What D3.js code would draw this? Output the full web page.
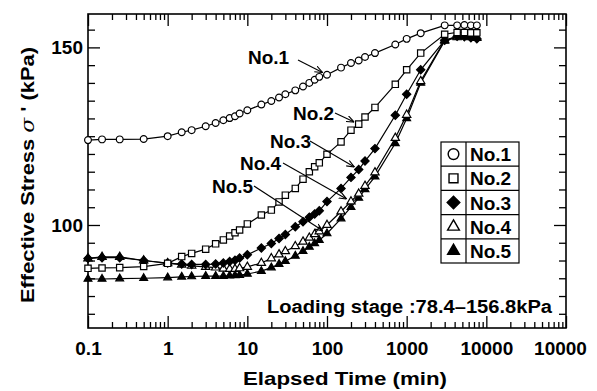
<!DOCTYPE html>
<html>
<head>
<meta charset="utf-8">
<script src="https://cdn.jsdelivr.net/npm/d3@7"></script>
<style>
body{margin:0;background:#fff;}
text{font-family:"Liberation Sans",Arial,sans-serif;font-weight:bold;fill:#000;}
</style>
</head>
<body>
<div id="container"></div>
<script>
// elapsed time of each reading (min)
let elapsed = [0.1, 0.15, 0.25, 0.5, 1, 1.5, 2, 3, 4, 5, 6, 7, 8, 10, 15, 20, 25, 30, 40, 50, 60, 70, 80,
	100, 150, 200, 250, 300, 400, 720, 1000, 1500, 3000, 4300, 5300, 6400, 7600];

// effective stress (kPa) per specimen
let no1 = [123.9, 124.1, 124.1, 124.2, 125.0, 126.1, 126.7, 127.8, 128.7, 129.5, 130.1, 130.6, 131.4, 132.3, 133.9, 134.9, 135.9, 136.8, 137.9, 139.0, 140.0, 140.9, 141.7,
	142.3, 144.3, 145.6, 146.3, 147.3, 148.4, 150.8, 152.4, 154.0, 156.2, 156.2, 156.3, 156.2, 156.2];
let no2 = [87.8, 87.9, 88.0, 88.3, 89.2, 91.1, 92.0, 93.2, 94.7, 95.8, 96.9, 97.8, 98.6, 100.3, 102.8, 104.2, 106.5, 108.4, 110.3, 112.9, 115.0, 116.4, 117.5,
	119.9, 123.4, 126.7, 128.4, 130.4, 133.1, 139.6, 143.7, 148.4, 153.7, 154.2, 154.2, 154.1, 154.1];
let no3 = [90.6, 90.8, 90.8, 90.0, 89.3, 89.0, 88.9, 88.9, 89.0, 89.3, 89.7, 90.1, 90.7, 91.6, 93.5, 94.8, 96.2, 97.3, 99.5, 100.9, 102.2, 103.1, 104.0,
	106.6, 110.3, 113.4, 115.6, 118.0, 121.5, 130.9, 136.8, 143.7, 152.0, 153.1, 153.0, 152.7, 152.4];
let no4 = [90.6, 91.0, 91.0, 90.0, 89.2, 88.8, 88.5, 88.2, 88.0, 87.7, 87.6, 87.6, 87.8, 88.2, 89.3, 90.6, 91.7, 92.6, 94.0, 95.3, 96.4, 97.4, 98.2,
	100.0, 103.8, 106.6, 108.8, 111.0, 114.8, 124.5, 131.0, 140.5, 152.0, 153.0, 153.2, 153.0, 152.8];
let no5 = [84.8, 84.8, 84.9, 85.0, 85.2, 85.4, 85.5, 85.6, 85.6, 85.6, 85.7, 85.8, 85.9, 86.2, 87.0, 88.0, 89.0, 89.8, 91.3, 92.6, 93.8, 94.8, 95.7,
	97.6, 101.8, 105.0, 107.6, 110.0, 113.6, 123.0, 130.0, 140.0, 151.8, 152.8, 153.0, 152.8, 152.6];

let seriesNames = ["No.1", "No.2", "No.3", "No.4", "No.5"];
let seriesValues = [no1, no2, no3, no4, no5];

let xTicks = [0.1, 1, 10, 100, 1000, 10000, 100000];
let xTickLabels = ["0.1", "1", "10", "100", "1000", "10000", "10000"];
let yTicks = [100, 150];
let yMinorTicks = [75, 80, 85, 90, 95, 105, 110, 115, 120, 125, 130, 135, 140, 145, 155];

let margin = {top: 14, right: 31, bottom: 63, left: 88},
	width = 597 - margin.left - margin.right,
	height = 391 - margin.top - margin.bottom;

let xScale = d3.scaleLog().domain([0.1, 100000]).range([0, width]);
let yScale = d3.scaleLinear().domain([71, 159.4]).range([height, 0]);

let svg = d3.select("div#container").append("svg")
	.attr("width", 597).attr("height", 391)
	.append("g")
	.attr("transform", "translate(" + margin.left + "," + margin.top + ")");

// minor ticks on log axis: 2..9 in each decade
let xMinorTicks = [];
for (let i = 0; i < xTicks.length - 1; i++) {
	for (let m = 2; m < 10; m++) xMinorTicks.push(xTicks[i] * m);
}

function styleAxis(g) {
	g.select(".domain").remove();
	g.selectAll(".tick line").attr("stroke", "#000").attr("stroke-width", 1.3);
	g.selectAll(".tick text").style("font-size", "19px").style("font-family", "'Liberation Sans',Arial,sans-serif").style("font-weight", "bold");
}

// bottom
svg.append("g").attr("transform", "translate(0," + height + ")")
	.call(d3.axisBottom(xScale).tickValues(xTicks).tickSize(-12).tickPadding(14)
		.tickFormat((d, i) => xTickLabels[i]))
	.call(styleAxis);
svg.append("g").attr("transform", "translate(0," + height + ")")
	.call(d3.axisBottom(xScale).tickValues(xMinorTicks).tickSize(-6).tickFormat(""))
	.call(styleAxis);
// top
svg.append("g")
	.call(d3.axisTop(xScale).tickValues(xTicks).tickSize(-12).tickFormat(""))
	.call(styleAxis);
svg.append("g")
	.call(d3.axisTop(xScale).tickValues(xMinorTicks).tickSize(-6).tickFormat(""))
	.call(styleAxis);
// left
svg.append("g")
	.call(d3.axisLeft(yScale).tickValues(yTicks).tickSize(-12).tickPadding(5))
	.call(styleAxis);
svg.append("g")
	.call(d3.axisLeft(yScale).tickValues(yMinorTicks).tickSize(-7).tickFormat(""))
	.call(styleAxis);
// right
svg.append("g").attr("transform", "translate(" + width + ",0)")
	.call(d3.axisRight(yScale).tickValues(yTicks).tickSize(-12).tickFormat(""))
	.call(styleAxis);
svg.append("g").attr("transform", "translate(" + width + ",0)")
	.call(d3.axisRight(yScale).tickValues(yMinorTicks).tickSize(-7).tickFormat(""))
	.call(styleAxis);

// the last label sits a little left of its tick in the original
svg.selectAll("g.tick text").filter(d => d === 100000).attr("dx", -6);

svg.append("rect")
	.attr("width", width).attr("height", height)
	.attr("fill", "none").attr("stroke", "#000").attr("stroke-width", 1.6);

// axis titles
svg.append("text")
	.attr("x", 257).attr("y", 371)
	.attr("text-anchor", "middle")
	.attr("textLength", 204).attr("lengthAdjust", "spacingAndGlyphs")
	.style("font-size", "19px")
	.text("Elapsed Time (min)");

let yTitle = svg.append("text")
	.attr("transform", "translate(-54," + (175 - margin.top) + ") rotate(-90)")
	.attr("text-anchor", "middle")
	.attr("textLength", 256).attr("lengthAdjust", "spacingAndGlyphs")
	.style("font-size", "19px");
yTitle.append("tspan").text("Effective Stress ");
yTitle.append("tspan").style("font-style", "italic").style("font-family", "'DejaVu Serif',serif").style("font-weight", "normal").text("σ");
yTitle.append("tspan").text(" ' (kPa)");

// symbols
function symbolPath(k, size) {
	if (k === 0) return d3.symbol(d3.symbolCircle, size)();
	if (k === 1) return d3.symbol(d3.symbolSquare, size)();
	if (k === 2) return d3.symbol(d3.symbolSquare, size)();
	return d3.symbol(d3.symbolTriangle, size)();
}
let symbolFill = ["#fff", "#fff", "#000", "#fff", "#000"];
let symbolRotate = [0, 0, 45, 0, 0];
let symbolSize = [36, 40, 34, 30, 26];

let line = d3.line()
	.x((d, i) => xScale(elapsed[i]))
	.y(d => yScale(d));

seriesValues.forEach(function (values) {
	svg.append("path")
		.datum(values)
		.attr("fill", "none")
		.attr("stroke", "#000")
		.attr("stroke-width", 1.2)
		.attr("d", line);
});

for (let k = seriesValues.length - 1; k >= 0; k--) {
	svg.append("g").selectAll("path")
		.data(seriesValues[k])
		.join("path")
		.attr("d", symbolPath(k, symbolSize[k]))
		.attr("transform", (d, i) => "translate(" + xScale(elapsed[i]) + "," + yScale(d) + ") rotate(" + symbolRotate[k] + ")")
		.attr("fill", symbolFill[k])
		.attr("stroke", "#000")
		.attr("stroke-width", 1.2);
}

// arrow labels: text position, and the reading the arrow points at
let labelTime = [100, 250, 250, 200, 100];
let labelPos = [[160, 43], [205, 99], [182, 127], [152, 149], [124, 172]];
let arrowFrom = [[210, 46], [247, 99], [222, 127], [195, 149], [166, 172]];

svg.append("defs").append("marker")
	.attr("id", "arrow")
	.attr("viewBox", "0 0 10 10")
	.attr("refX", 10).attr("refY", 5)
	.attr("markerWidth", 7).attr("markerHeight", 7)
	.attr("orient", "auto")
	.append("path")
	.attr("d", "M0,1 L10,5 L0,9")
	.attr("fill", "none").attr("stroke", "#000").attr("stroke-width", 1.5);

seriesNames.forEach(function (name, k) {
	let idx = elapsed.indexOf(labelTime[k]);
	let tx = xScale(elapsed[idx]), ty = yScale(seriesValues[k][idx]);
	let fx = arrowFrom[k][0], fy = arrowFrom[k][1];
	let len = Math.hypot(tx - fx, ty - fy);
	let ex = tx - (tx - fx) / len * 5, ey = ty - (ty - fy) / len * 5;
	svg.append("line")
		.attr("x1", fx).attr("y1", fy).attr("x2", ex).attr("y2", ey)
		.attr("stroke", "#000").attr("stroke-width", 1.1)
		.attr("marker-end", "url(#arrow)");
	svg.append("text")
		.attr("x", labelPos[k][0]).attr("y", labelPos[k][1] + 7)
		.style("font-size", "19px")
		.text(name);
});

// legend
let legend = svg.append("g").attr("transform", "translate(353,128)");
let rowH = 24.2;
legend.append("rect").attr("width", 78).attr("height", rowH * 5)
	.attr("fill", "#fff").attr("stroke", "#000").attr("stroke-width", 1.2);
legend.append("line").attr("x1", 25).attr("x2", 25).attr("y1", 0).attr("y2", rowH * 5)
	.attr("stroke", "#000").attr("stroke-width", 1.2);
let legendSize = [90, 80, 80, 60, 60];
seriesNames.forEach(function (name, k) {
	if (k > 0) legend.append("line").attr("x1", 0).attr("x2", 78).attr("y1", k * rowH).attr("y2", k * rowH)
		.attr("stroke", "#000").attr("stroke-width", 1.2);
	legend.append("path")
		.attr("d", symbolPath(k, legendSize[k]))
		.attr("transform", "translate(12.5," + (k * rowH + rowH / 2) + ") rotate(" + symbolRotate[k] + ")")
		.attr("fill", symbolFill[k])
		.attr("stroke", "#000").attr("stroke-width", 1.4);
	legend.append("text")
		.attr("x", 29).attr("y", k * rowH + rowH / 2 + 7)
		.style("font-size", "19px")
		.text(name);
});

svg.append("text")
	.attr("x", 464).attr("y", 299)
	.attr("text-anchor", "end")
	.attr("textLength", 285).attr("lengthAdjust", "spacingAndGlyphs")
	.style("font-size", "18px")
	.text("Loading stage :78.4\u2013156.8kPa");
</script>
</body>
</html>
